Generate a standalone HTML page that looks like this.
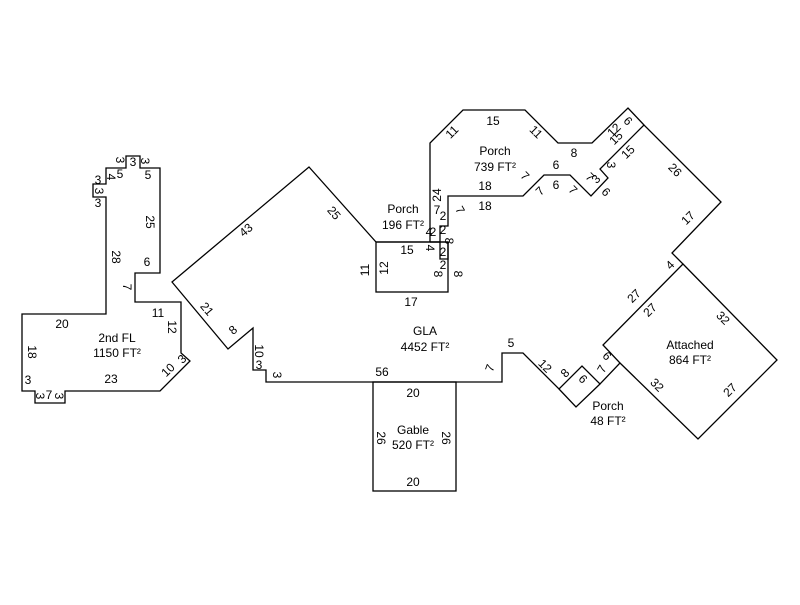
<!DOCTYPE html>
<html><head><meta charset="utf-8"><style>
html,body{margin:0;padding:0;background:#fff;}
svg text{font-family:"Liberation Sans",Arial,sans-serif;font-size:12px;fill:#000;text-anchor:middle;dominant-baseline:central;}
</style></head><body>
<svg width="800" height="600" viewBox="0 0 800 600" xmlns="http://www.w3.org/2000/svg">
<g fill="none" stroke="#000" stroke-width="1.3">
<!-- 2nd FL -->
<polygon points="22,314 106,314 106,197 93,197 93,184 106,184 106,168 126,168 126,156 140,156 140,168 160,168 160,273 135,273 135,302 181,302 181,353 190,361 160,391 65,391 65,403 35,403 35,391 22,391"/>
<!-- GLA -->
<polygon points="172,282 309,167 376,242 448,242 448,259 440,259 440,226 448,226 448,196 523,196 544,175 570,175 591,196 608,178 600,169 644,125 721,202 672,253 683,264 603,345 620,363 600,384 582,366 559,389 523,353 502,353 502,382 266,382 266,370 253,370 253,328 228,349"/>
<!-- Porch 196 -->
<rect x="376" y="242" width="72" height="50"/>
<!-- Porch 739 -->
<polyline points="430,242 430,143 463,110 525,110 558,143 592,143 628,108 644,125"/>
<line x1="430" y1="242" x2="440" y2="242"/>
<!-- Attached -->
<polyline points="683,264 777,360 698,439 620,363"/>
<!-- Porch 48 -->
<polyline points="559,389 576,407 600,384"/>
<!-- Gable -->
<rect x="373" y="382" width="83" height="109"/>
</g>
<!-- labels -->
<text x="62" y="324">20</text>
<text x="117" y="338">2nd FL</text><text x="117" y="353">1150 FT²</text>
<text x="32" y="352" transform="rotate(90 32 352)">18</text>
<text x="28" y="380">3</text>
<text x="111" y="379">23</text>
<text x="168" y="370" transform="rotate(-45 168 370)">10</text>
<text x="182" y="359" transform="rotate(-45 182 359)">3</text>
<text x="172" y="327" transform="rotate(90 172 327)">12</text>
<text x="158" y="313">11</text>
<text x="127" y="287" transform="rotate(90 127 287)">7</text>
<text x="147" y="262">6</text>
<text x="116" y="257" transform="rotate(90 116 257)">28</text>
<text x="150" y="222" transform="rotate(90 150 222)">25</text>
<text x="148" y="175">5</text>
<text x="120" y="160" transform="rotate(90 120 160)">3</text>
<text x="133" y="162">3</text>
<text x="145" y="161" transform="rotate(90 145 161)">3</text>
<text x="111" y="177" transform="rotate(90 111 177)">4</text>
<text x="120" y="174">5</text>
<text x="98" y="180">3</text>
<text x="99" y="191" transform="rotate(90 99 191)">3</text>
<text x="98" y="203">3</text>
<text x="40" y="396" transform="rotate(90 40 396)">3</text>
<text x="49" y="395">7</text>
<text x="59" y="396" transform="rotate(90 59 396)">3</text>
<text x="246" y="230" transform="rotate(-40 246 230)">43</text>
<text x="334" y="213" transform="rotate(50 334 213)">25</text>
<text x="207" y="309" transform="rotate(50 207 309)">21</text>
<text x="233" y="330" transform="rotate(-40 233 330)">8</text>
<text x="259" y="351" transform="rotate(90 259 351)">10</text>
<text x="259" y="365">3</text>
<text x="277" y="375" transform="rotate(90 277 375)">3</text>
<text x="382" y="372">56</text>
<text x="365" y="270" transform="rotate(-90 365 270)">11</text>
<text x="384" y="268" transform="rotate(-90 384 268)">12</text>
<text x="407" y="250">15</text>
<text x="411" y="302">17</text>
<text x="403" y="209">Porch</text><text x="403" y="225">196 FT²</text>
<text x="425" y="331">GLA</text><text x="425" y="347">4452 FT²</text>
<text x="490" y="368" transform="rotate(-70 490 368)">7</text>
<text x="511" y="343">5</text>
<text x="545" y="366" transform="rotate(45 545 366)">12</text>
<text x="565" y="373" transform="rotate(-45 565 373)">8</text>
<text x="583" y="379" transform="rotate(45 583 379)">6</text>
<text x="602" y="369" transform="rotate(-60 602 369)">7</text>
<text x="607" y="356" transform="rotate(45 607 356)">6</text>
<text x="608" y="406">Porch</text><text x="608" y="421">48 FT²</text>
<text x="413" y="430">Gable</text><text x="413" y="445">520 FT²</text>
<text x="381" y="438" transform="rotate(90 381 438)">26</text>
<text x="446" y="438" transform="rotate(90 446 438)">26</text>
<text x="413" y="393">20</text>
<text x="413" y="482">20</text>
<text x="690" y="345">Attached</text><text x="690" y="360">864 FT²</text>
<text x="634" y="296" transform="rotate(-45 634 296)">27</text>
<text x="650" y="310" transform="rotate(-45 650 310)">27</text>
<text x="723" y="318" transform="rotate(45 723 318)">32</text>
<text x="657" y="385" transform="rotate(45 657 385)">32</text>
<text x="730" y="390" transform="rotate(-45 730 390)">27</text>
<text x="670" y="265" transform="rotate(-45 670 265)">4</text>
<text x="688" y="218" transform="rotate(-45 688 218)">17</text>
<text x="675" y="170" transform="rotate(45 675 170)">26</text>
<text x="628" y="152" transform="rotate(-45 628 152)">15</text>
<text x="611" y="165" transform="rotate(90 611 165)">3</text>
<text x="606" y="192" transform="rotate(45 606 192)">6</text>
<text x="614" y="130" transform="rotate(-45 614 130)">12</text>
<text x="616" y="138" transform="rotate(-45 616 138)">15</text>
<text x="628" y="121" transform="rotate(45 628 121)">6</text>
<text x="590" y="177" transform="rotate(45 590 177)">7</text>
<text x="596" y="179" transform="rotate(-45 596 179)">3</text>
<text x="495" y="151">Porch</text><text x="495" y="167">739 FT²</text>
<text x="452" y="132" transform="rotate(-45 452 132)">11</text>
<text x="493" y="121">15</text>
<text x="536" y="132" transform="rotate(45 536 132)">11</text>
<text x="574" y="153">8</text>
<text x="556" y="165">6</text>
<text x="556" y="185">6</text>
<text x="525" y="176" transform="rotate(45 525 176)">7</text>
<text x="540" y="191" transform="rotate(-45 540 191)">7</text>
<text x="573" y="190" transform="rotate(45 573 190)">7</text>
<text x="485" y="186">18</text>
<text x="485" y="206">18</text>
<text x="437" y="195" transform="rotate(-90 437 195)">24</text>
<text x="437" y="210">7</text>
<text x="443" y="216">2</text>
<text x="460" y="210" transform="rotate(60 460 210)">7</text>
<text x="443" y="230">2</text>
<text x="429" y="232">4</text>
<text x="433" y="232">2</text>
<text x="449" y="241" transform="rotate(90 449 241)">8</text>
<text x="430" y="248" transform="rotate(90 430 248)">4</text>
<text x="443" y="252">2</text>
<text x="443" y="265">2</text>
<text x="438" y="274" transform="rotate(90 438 274)">8</text>
<text x="458" y="274" transform="rotate(90 458 274)">8</text>
</svg>
</body></html>
